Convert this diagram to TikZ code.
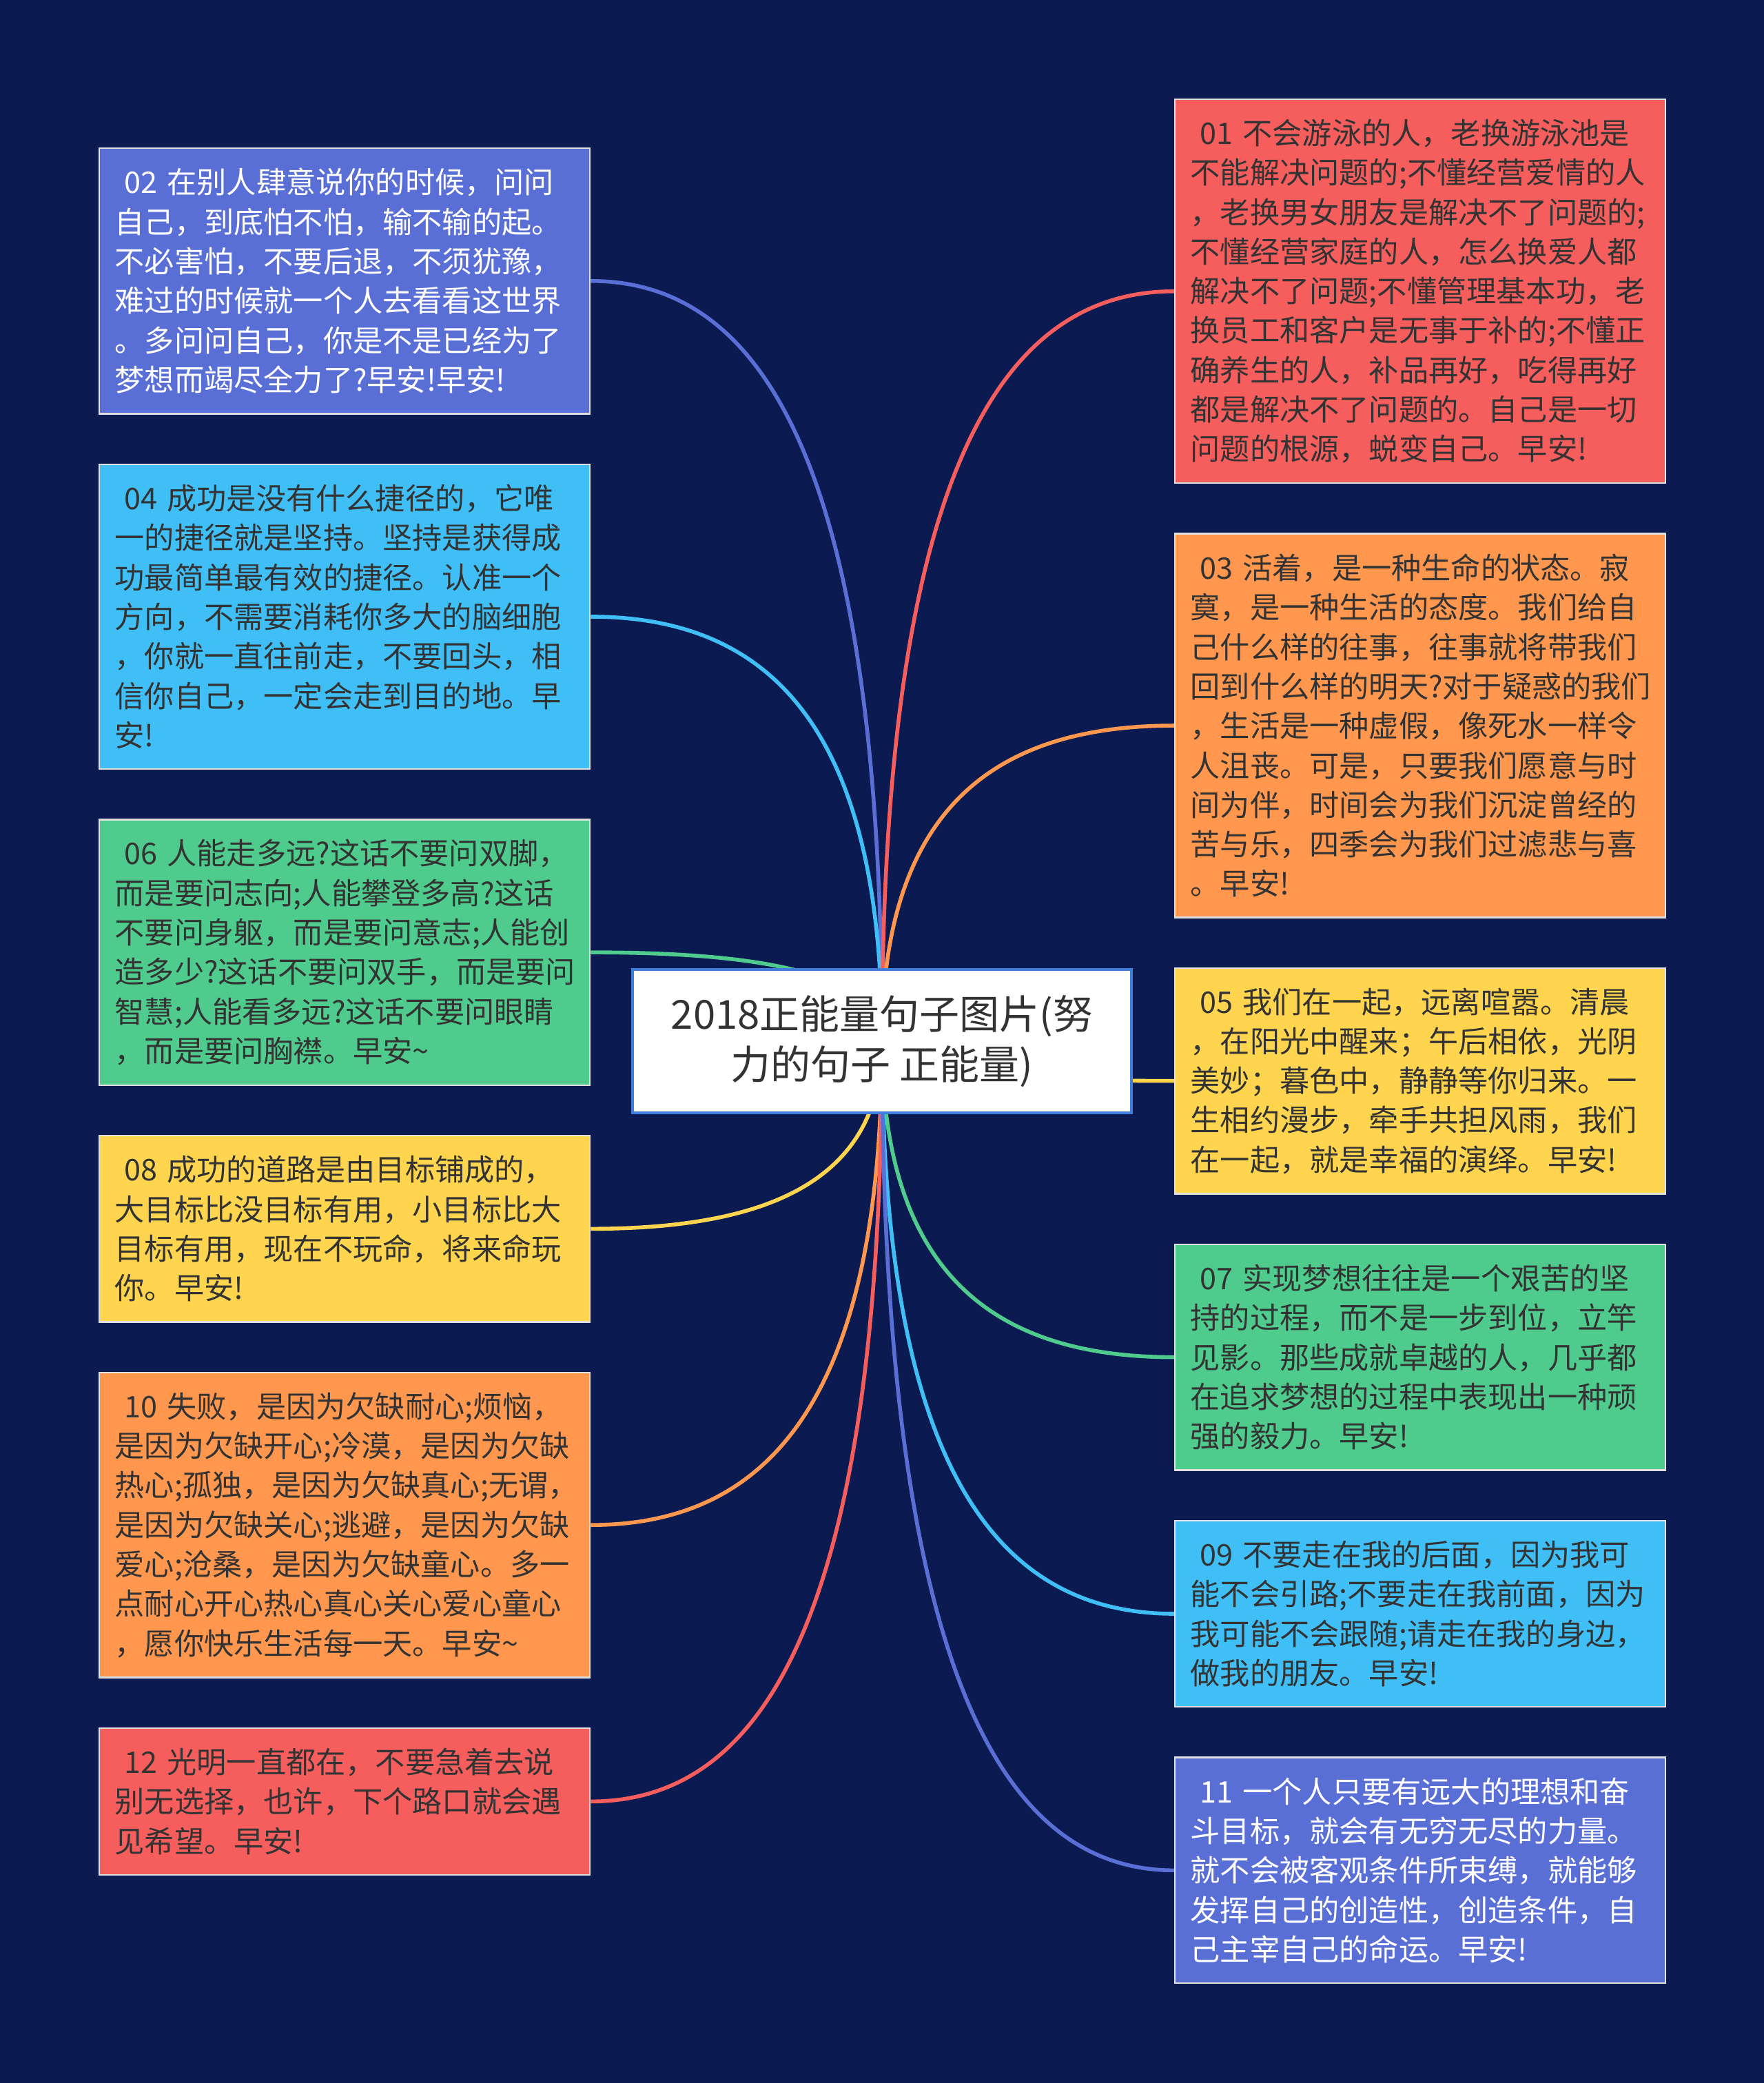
\documentclass[tikz,border=0pt]{standalone}
\usepackage{fontspec}
\newfontfamily\cjk{Noto Sans CJK SC}
\usepackage{xcolor}
\usepackage{tikz}
\usetikzlibrary{positioning,calc}

\definecolor{bgnavy}{HTML}{0B1B52}
\definecolor{cpurple}{HTML}{5A6FD6}
\definecolor{csky}{HTML}{40BFF7}
\definecolor{cgreen}{HTML}{4ECB8D}
\definecolor{cyellow}{HTML}{FFD54F}
\definecolor{corange}{HTML}{FF974F}
\definecolor{cred}{HTML}{F65E5E}
\definecolor{rootblue}{HTML}{3F7FDB}
\definecolor{darktext}{HTML}{333333}

\pgfdeclarelayer{back}
\pgfdeclarelayer{links}
\pgfsetlayers{back,links,main}

\begin{document}
\begin{tikzpicture}[
    node distance = 17.75pt,
    card/.style={rectangle, draw=white!88!black, line width=0.6pt, inner xsep=5.6pt, inner ysep=2pt,
      text width=166.8pt, align=left, text=darktext, font=\cjk\fontsize{10.8pt}{14.33pt}\selectfont,
      minimum height=#1*14.33pt+10.3pt},
    title/.style={rectangle, draw=rootblue, line width=1pt, fill=white, minimum width=181pt, minimum height=52pt,
      align=center, text=darktext, font=\cjk\fontsize{14.5pt}{18.3pt}\selectfont},
    link/.style={line width=1.4pt,
      to path={.. controls ($(\tikztostart)!0.75!(\tikztostart|-\tikztotarget)$)
        and ($(\tikztotarget)!0.6!(\tikztostart|-\tikztotarget)$) .. (\tikztotarget)}}
  ]
    \useasboundingbox (0,0) rectangle (640pt,-755.75pt);
    \begin{pgfonlayer}{back}
      \fill[bgnavy] (0,0) rectangle (640pt,-755.75pt);
    \end{pgfonlayer}

    % Root
    \node[title] (root) at (320pt,-377.75pt) {2018正能量句子图片(努\\力的句子 正能量)};

    % Left column
    \node[card=6, fill=cpurple, text=white, anchor=north west] (n02) at (35.75pt,-53.5pt)
      {\hspace*{3.4pt}02 在别人肆意说你的时候，问问\\自己，到底怕不怕，输不输的起。\\不必害怕，不要后退，不须犹豫，\\难过的时候就一个人去看看这世界\\。多问问自己，你是不是已经为了\\梦想而竭尽全力了?早安!早安!};
    \node[card=7, fill=csky, below=of n02] (n04)
      {\hspace*{3.4pt}04 成功是没有什么捷径的，它唯\\一的捷径就是坚持。坚持是获得成\\功最简单最有效的捷径。认准一个\\方向，不需要消耗你多大的脑细胞\\，你就一直往前走，不要回头，相\\信你自己，一定会走到目的地。早\\安!};
    \node[card=6, fill=cgreen, below=of n04] (n06)
      {\hspace*{3.4pt}06 人能走多远?这话不要问双脚，\\而是要问志向;人能攀登多高?这话\\不要问身躯，而是要问意志;人能创\\造多少?这话不要问双手，而是要问\\智慧;人能看多远?这话不要问眼睛\\，而是要问胸襟。早安\textasciitilde};
    \node[card=4, fill=cyellow, below=of n06] (n08)
      {\hspace*{3.4pt}08 成功的道路是由目标铺成的，\\大目标比没目标有用，小目标比大\\目标有用，现在不玩命，将来命玩\\你。早安!};
    \node[card=7, fill=corange, below=of n08] (n10)
      {\hspace*{3.4pt}10 失败，是因为欠缺耐心;烦恼，\\是因为欠缺开心;冷漠，是因为欠缺\\热心;孤独，是因为欠缺真心;无谓，\\是因为欠缺关心;逃避，是因为欠缺\\爱心;沧桑，是因为欠缺童心。多一\\点耐心开心热心真心关心爱心童心\\，愿你快乐生活每一天。早安\textasciitilde};
    \node[card=3, fill=cred, below=of n10] (n12)
      {\hspace*{3.4pt}12 光明一直都在，不要急着去说\\别无选择，也许，下个路口就会遇\\见希望。早安!};

    % Right column
    \node[card=9, fill=cred, anchor=north west] (n01) at (426pt,-35.75pt)
      {\hspace*{3.4pt}01 不会游泳的人，老换游泳池是\\不能解决问题的;不懂经营爱情的人\\，老换男女朋友是解决不了问题的;\\不懂经营家庭的人，怎么换爱人都\\解决不了问题;不懂管理基本功，老\\换员工和客户是无事于补的;不懂正\\确养生的人，补品再好，吃得再好\\都是解决不了问题的。自己是一切\\问题的根源，蜕变自己。早安!};
    \node[card=9, fill=corange, below=17.7pt of n01] (n03)
      {\hspace*{3.4pt}03 活着，是一种生命的状态。寂\\寞，是一种生活的态度。我们给自\\己什么样的往事，往事就将带我们\\回到什么样的明天?对于疑惑的我们\\，生活是一种虚假，像死水一样令\\人沮丧。可是，只要我们愿意与时\\间为伴，时间会为我们沉淀曾经的\\苦与乐，四季会为我们过滤悲与喜\\。早安!};
    \node[card=5, fill=cyellow, below=17.7pt of n03] (n05)
      {\hspace*{3.4pt}05 我们在一起，远离喧嚣。清晨\\，在阳光中醒来；午后相依，光阴\\美妙；暮色中，静静等你归来。一\\生相约漫步，牵手共担风雨，我们\\在一起，就是幸福的演绎。早安!};
    \node[card=5, fill=cgreen, below=17.7pt of n05] (n07)
      {\hspace*{3.4pt}07 实现梦想往往是一个艰苦的坚\\持的过程，而不是一步到位，立竿\\见影。那些成就卓越的人，几乎都\\在追求梦想的过程中表现出一种顽\\强的毅力。早安!};
    \node[card=4, fill=csky, below=17.7pt of n07] (n09)
      {\hspace*{3.4pt}09 不要走在我的后面，因为我可\\能不会引路;不要走在我前面，因为\\我可能不会跟随;请走在我的身边，\\做我的朋友。早安!};
    \node[card=5, fill=cpurple, text=white, below=17.7pt of n09] (n11)
      {\hspace*{3.4pt}11 一个人只要有远大的理想和奋\\斗目标，就会有无穷无尽的力量。\\就不会被客观条件所束缚，就能够\\发挥自己的创造性，创造条件，自\\己主宰自己的命运。早安!};

    % Links
    \begin{pgfonlayer}{links}
      \draw[link, draw=cpurple] (root.center) to (n02.east);
      \draw[link, draw=csky] (root.center) to (n04.east);
      \draw[link, draw=cgreen] (root.center) to (n06.east);
      \draw[link, draw=cyellow] (root.center) to (n08.east);
      \draw[link, draw=corange] (root.center) to (n10.east);
      \draw[link, draw=cred] (root.center) to (n12.east);
      \draw[link, draw=cred] (root.center) to (n01.west);
      \draw[link, draw=corange] (root.center) to (n03.west);
      \draw[link, draw=cyellow] (root.center) to (n05.west);
      \draw[link, draw=cgreen] (root.center) to (n07.west);
      \draw[link, draw=csky] (root.center) to (n09.west);
      \draw[link, draw=cpurple] (root.center) to (n11.west);
    \end{pgfonlayer}
  \end{tikzpicture}
\end{document}
